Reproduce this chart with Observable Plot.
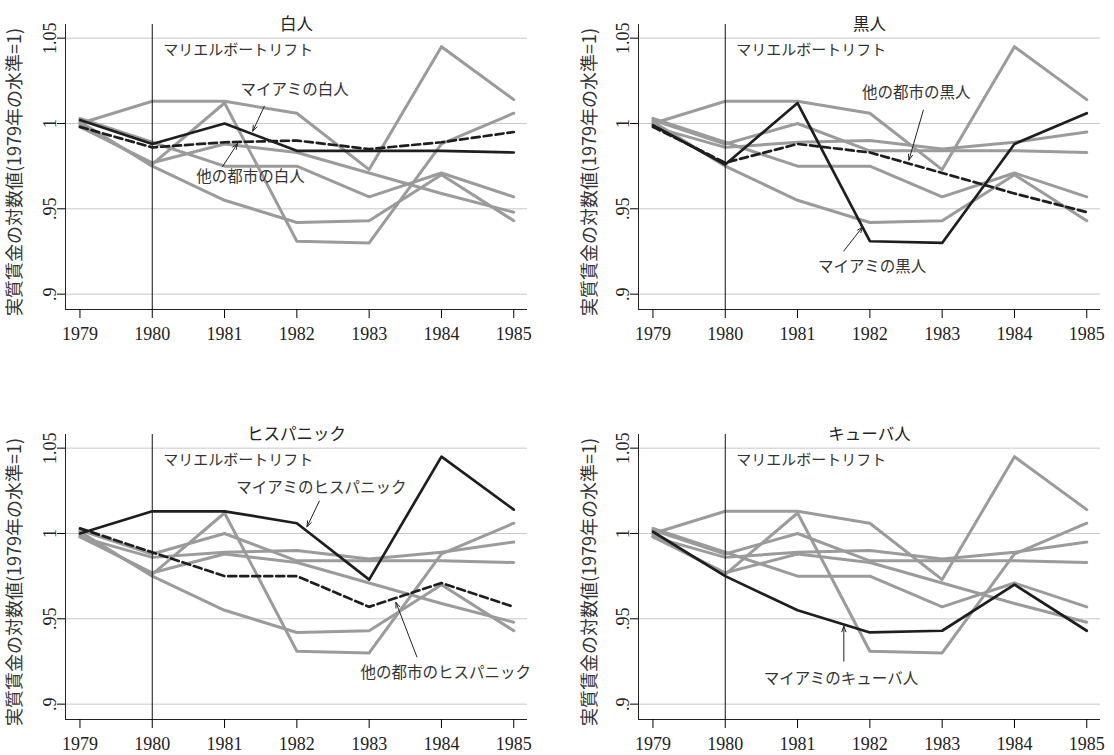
<!DOCTYPE html>
<html><head><meta charset="utf-8">
<script src="https://cdn.jsdelivr.net/npm/d3@7"></script>
<script src="https://cdn.jsdelivr.net/npm/@observablehq/plot@0.6"></script>
<style>
html,body{margin:0;padding:0;background:#fff;}
body{width:1114px;height:755px;overflow:hidden;position:relative;}
.panel{position:absolute;}
</style></head><body>
<div id="p0" class="panel" style="left:0px;top:0px"></div>
<div id="p1" class="panel" style="left:557px;top:0px"></div>
<div id="p2" class="panel" style="left:0px;top:410px"></div>
<div id="p3" class="panel" style="left:557px;top:410px"></div>
<script>
// ---- data ----
const years = [1979, 1980, 1981, 1982, 1983, 1984, 1985];
const miamiWhite    = [1.002, 0.988, 1.000, 0.984, 0.984, 0.984, 0.983];
const otherWhite    = [0.998, 0.986, 0.989, 0.990, 0.985, 0.989, 0.995];
const miamiBlack    = [0.999, 0.976, 1.012, 0.931, 0.930, 0.988, 1.006];
const otherBlack    = [0.998, 0.977, 0.988, 0.983, 0.971, 0.959, 0.948];
const miamiHispanic = [1.000, 1.013, 1.013, 1.006, 0.973, 1.045, 1.014];
const otherHispanic = [1.003, 0.989, 0.975, 0.975, 0.957, 0.971, 0.957];
const miamiCuban    = [1.001, 0.975, 0.955, 0.942, 0.943, 0.970, 0.943];

const seriesKeys = ["miamiWhite","otherWhite","miamiBlack","otherBlack","miamiHispanic","otherHispanic","miamiCuban"];
const seriesArrays = [miamiWhite, otherWhite, miamiBlack, otherBlack, miamiHispanic, otherHispanic, miamiCuban];

const panelTitles = ["白人", "黒人", "ヒスパニック", "キューバ人"];
const panelMain   = ["miamiWhite", "miamiBlack", "miamiHispanic", "miamiCuban"];
const panelOther  = ["otherWhite", "otherBlack", "otherHispanic", null];

const yTicks = [0.9, 0.95, 1, 1.05];
const yTickLabels = [".9", ".95", "1", "1.05"];
const yLabel = "実質賃金の対数値(1979年の水準=1)";
const eventYear = 1980;
const eventLabel = "マリエルボートリフト";
const eventLabelY = 1.043;

// annotation labels: text, text position, arrow start -> arrow end (data units)
const annoWhite = [
  {text: "マイアミの白人", tx: 1981.97, ty: 1.0195, x1: 1981.55, y1: 1.0101, x2: 1981.39, y2: 0.9955},
  {text: "他の都市の白人", tx: 1981.36, ty: 0.9685, x1: 1980.97, y1: 0.9746, x2: 1981.18, y2: 0.9883}
];
const annoBlack = [
  {text: "他の都市の黒人", tx: 1982.64, ty: 1.0176, x1: 1982.74, y1: 1.0078, x2: 1982.54, y2: 0.9785},
  {text: "マイアミの黒人", tx: 1982.03, ty: 0.9159, x1: 1981.64, y1: 0.9253, x2: 1981.90, y2: 0.9394}
];
const annoHispanic = [
  {text: "マイアミのヒスパニック", tx: 1982.34, ty: 1.0268, x1: 1982.31, y1: 1.0189, x2: 1982.14, y2: 1.0039},
  {text: "他の都市のヒスパニック", tx: 1984.06, ty: 0.9183, x1: 1983.66, y1: 0.9277, x2: 1983.37, y2: 0.9597}
];
const annoCuban = [
  {text: "マイアミのキューバ人", tx: 1981.60, ty: 0.9150, x1: 1981.64, y1: 0.9252, x2: 1981.64, y2: 0.9457}
];
const panelAnnos = [annoWhite, annoBlack, annoHispanic, annoCuban];

// ---- table ----
const rows = seriesKeys.flatMap((k, i) => years.map((yr, j) => ({series: k, year: yr, value: seriesArrays[i][j]})));

const xDomain = [1978.8, 1985.19];
const yDomain = [0.891, 1.058];
const cjk = "'Noto Sans CJK JP', sans-serif";
const serif = "'Liberation Serif', 'DejaVu Serif', serif";

for (let i = 0; i < 4; i++) {
  const col = i % 2;
  const main = panelMain[i], other = panelOther[i];
  const greys = rows.filter(d => d.series !== main && d.series !== other);
  const mainRows = rows.filter(d => d.series === main);
  const otherRows = rows.filter(d => d.series === other);
  const chart = Plot.plot({
    width: 557,
    height: 345,
    marginLeft: col ? 81 : 65,
    marginRight: col ? 14 : 30,
    marginTop: 24,
    marginBottom: 36,
    style: {fontFamily: serif, background: "#fff", overflow: "visible"},
    x: {domain: xDomain},
    y: {domain: yDomain},
    marks: [
      Plot.ruleY(yTicks, {stroke: "#c8c8c8", strokeWidth: 1}),
      Plot.line(greys, {x: "year", y: "value", z: "series", stroke: "#9b9b9b", strokeWidth: 3}),
      Plot.ruleX([eventYear], {stroke: "#111", strokeWidth: 1}),
      Plot.line(otherRows, {x: "year", y: "value", stroke: "#1e1e1e", strokeWidth: 2.7, strokeDasharray: "8,4"}),
      Plot.line(mainRows, {x: "year", y: "value", stroke: "#1e1e1e", strokeWidth: 2.7}),
      Plot.text([eventLabel], {x: eventYear, y: eventLabelY, text: d => d, dx: 11, textAnchor: "start", fontFamily: cjk, fontSize: 15, fill: "#333"}),
      Plot.text(panelAnnos[i], {x: "tx", y: "ty", text: "text", fontFamily: cjk, fontSize: 15.5, fill: "#333"}),
      Plot.arrow(panelAnnos[i], {x1: "x1", y1: "y1", x2: "x2", y2: "y2", stroke: "#222", strokeWidth: 1, headLength: 9, headAngle: 40}),
      Plot.text([panelTitles[i]], {frameAnchor: "top", text: d => d, dy: -6, fontFamily: cjk, fontSize: 16.5, fill: "#222"}),
      Plot.text([yLabel], {frameAnchor: "left", text: d => d, rotate: -90, textAnchor: "middle", dx: col ? -48 : -50, dy: 5, fontFamily: cjk, fontSize: 18, fill: "#333"}),
      Plot.ruleX([xDomain[0]], {stroke: "#222", strokeWidth: 1}),
      Plot.ruleY([yDomain[0]], {stroke: "#222", strokeWidth: 1}),
      Plot.axisX({ticks: years, tickFormat: d => String(d), tickSize: 9, tickPadding: 9, fontSize: 18, fontFamily: serif, label: null, fill: "#222"}),
      Plot.axisY({ticks: yTicks, tickFormat: d => yTickLabels[yTicks.indexOf(d)], tickSize: 8, tickRotate: -90, tickPadding: 2, fontSize: 18, fontFamily: serif, label: null, fill: "#222"})
    ]
  });
  document.getElementById("p" + i).appendChild(chart);
}
</script>
</body></html>
